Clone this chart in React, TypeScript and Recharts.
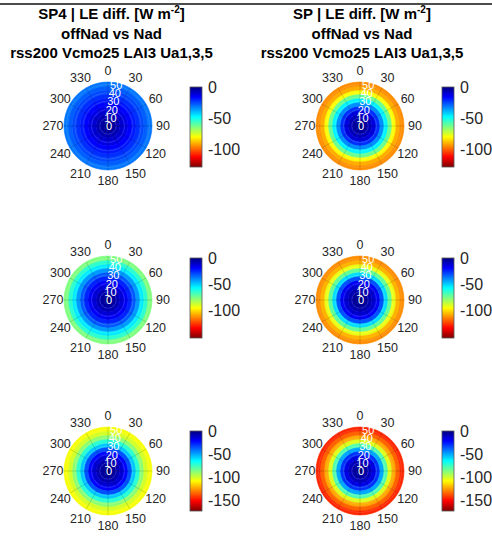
import { RadialBarChart, RadialBar, RadarChart, Radar, PolarGrid, PolarAngleAxis, PolarRadiusAxis, Cell } from 'recharts';

const W = 492;
const H = 537;
const FONT = '"Liberation Sans", Arial, sans-serif';

// zenith bins (deg) of the polar heatmaps, centre to edge
const ZENITH_BINS = ['0-5', '5-10', '10-15', '15-20', '20-25', '25-30', '30-35', '35-40', '40-45', '45-50', '50-55'];
const AZIMUTH_TICKS = [0, 30, 60, 90, 120, 150, 180, 210, 240, 270, 300, 330];
const RADIUS_TICKS = [0, 10, 20, 30, 40, 50];
const RADIUS_MAX = 53;

// LE difference per zenith ring [W m-2]
const SP4_ROW1 = [-3, -5, -7, -10, -13, -16, -19, -22, -25, -28, -31];
const SP_ROW1 = [-3, -5, -8, -12, -22, -34, -47, -62, -80, -91, -95];
const SP4_ROW2 = [-4, -6, -9, -13, -18, -24, -32, -42, -54, -64, -76];
const SP_ROW2 = [-3, -5, -8, -12, -18, -31, -52, -72, -92, -106, -112];
const SP4_ROW3 = [-4, -6, -9, -14, -22, -35, -55, -72, -88, -100, -106];
const SP_ROW3 = [-4, -7, -11, -17, -30, -50, -78, -102, -122, -134, -144];

// colour limits and colorbar ticks per row
const CLIM_MIN = [-129, -152, -172];
const CBAR_TICKS_ROW12 = [0, -50, -100];
const CBAR_TICKS_ROW3 = [0, -50, -100, -150];

const jet = (t: number) => {
  const c = (x: number) => Math.round(255 * Math.max(0, Math.min(1, x)));
  return `rgb(${c(1.5 - Math.abs(4 * t - 3))},${c(1.5 - Math.abs(4 * t - 2))},${c(1.5 - Math.abs(4 * t - 1))})`;
};

const PANELS = [
  { values: SP4_ROW1, cx: 108, cy: 126, row: 0, col: 0 },
  { values: SP_ROW1, cx: 360, cy: 126, row: 0, col: 1 },
  { values: SP4_ROW2, cx: 108, cy: 300, row: 1, col: 0 },
  { values: SP_ROW2, cx: 360, cy: 300, row: 1, col: 1 },
  { values: SP4_ROW3, cx: 108, cy: 471, row: 2, col: 0 },
  { values: SP_ROW3, cx: 360, cy: 471, row: 2, col: 1 },
];

const CBAR_X = [190, 442];
const CBAR_TOP = [87, 258, 431];
const CBAR_H = 80;
const CBAR_W = 12;

const angleTick = (props: any) => (
  <text x={props.x} y={props.y} textAnchor="middle" dominantBaseline="central" fill="#262626" fontSize={12.5} fontFamily={FONT}>
    {props.payload.value}
  </text>
);

const radiusTick = (props: any) => (
  <text x={props.x + 1} y={props.y} textAnchor="middle" dominantBaseline="central" fill="#fff" fontSize={11} fontFamily={FONT}>
    {props.payload.value}
  </text>
);

const PolarHeatmap = ({ values, cx, cy, row }: { values: number[]; cx: number; cy: number; row: number }) => {
  const data = ZENITH_BINS.map((bin, i) => ({ bin, full: 360, le: values[i] }));
  const axisData = AZIMUTH_TICKS.map(az => ({ az, rmax: RADIUS_MAX }));
  return (
    <>
      <div style={{ position: 'absolute', left: 0, top: 0 }}>
        <RadialBarChart
          width={W}
          height={H}
          data={data}
          cx={cx}
          cy={cy}
          innerRadius={0}
          outerRadius={44}
          startAngle={90}
          endAngle={-270}
          barCategoryGap={0}
          barGap={0}
        >
          <PolarAngleAxis type="number" domain={[0, 360]} tick={false} axisLine={false} />
          <PolarRadiusAxis type="category" dataKey="bin" tick={false} axisLine={false} />
          <RadialBar dataKey="full" isAnimationActive={false}>
            {data.map(d => {
              const color = jet(d.le / CLIM_MIN[row]);
              return <Cell key={d.bin} fill={color} stroke={color} strokeWidth={0.6} />;
            })}
          </RadialBar>
        </RadialBarChart>
      </div>
      <div style={{ position: 'absolute', left: 0, top: 0 }}>
        <RadarChart width={W} height={H} data={axisData} cx={cx} cy={cy} innerRadius={0} outerRadius={44} startAngle={90} endAngle={-270}>
          <PolarGrid gridType="circle" radialLines={false} stroke="#fff" strokeOpacity={0.13} />
          <PolarGrid gridType="circle" polarRadius={[0.01]} stroke="#000" strokeOpacity={0.15} />
          <PolarAngleAxis dataKey="az" tick={angleTick} tickLine={false} axisLine={false} tickSize={11} />
          <PolarRadiusAxis type="number" domain={[0, RADIUS_MAX]} ticks={RADIUS_TICKS} angle={80} axisLine={false} tickLine={false} tick={radiusTick} />
          <Radar dataKey="rmax" stroke="none" fill="none" dot={false} isAnimationActive={false} />
        </RadarChart>
      </div>
    </>
  );
};

const GRAD_STOPS = Array.from({ length: 17 }, (_, i) => i / 16);

const Titles = ({ x, name }: { x: number; name: string }) => (
  <g fontFamily={FONT} fontWeight="bold" fontSize={15} fill="#000" textAnchor="middle">
    <text x={x} y={18.5}>
      {name} | LE diff. [W m
      <tspan fontSize={10} dy={-6}>
        -2
      </tspan>
      <tspan dy={6}>]</tspan>
    </text>
    <text x={x} y={38.5}>
      offNad vs Nad
    </text>
    <text x={x} y={58}>
      rss200 Vcmo25 LAI3 Ua1,3,5
    </text>
  </g>
);

const Colorbar = ({ x, top, min, ticks }: { x: number; top: number; min: number; ticks: number[] }) => (
  <g>
    <rect x={x} y={top} width={CBAR_W} height={CBAR_H} fill="url(#jetGrad)" stroke="#555" strokeWidth={0.8} />
    {ticks.map(v => (
      <text
        key={v}
        x={x + CBAR_W + 6}
        y={top + (v / min) * CBAR_H}
        dominantBaseline="central"
        fill="#262626"
        fontSize={16}
        fontFamily={FONT}
      >
        {v}
      </text>
    ))}
  </g>
);

export default function App() {
  return (
    <div style={{ position: 'absolute', left: 0, top: 0, width: W, height: H, background: '#fff', overflow: 'hidden' }}>
      {PANELS.map(p => (
        <PolarHeatmap key={`${p.row}-${p.col}`} values={p.values} cx={p.cx} cy={p.cy} row={p.row} />
      ))}
      <svg width={W} height={H} style={{ position: 'absolute', left: 0, top: 0 }}>
        <defs>
          <linearGradient id="jetGrad" x1="0" y1="0" x2="0" y2="1">
            {GRAD_STOPS.map(t => (
              <stop key={t} offset={t} stopColor={jet(t)} />
            ))}
          </linearGradient>
        </defs>
        <line x1={0} y1={4} x2={W} y2={4} stroke="#111" strokeWidth={1.5} />
        <Titles x={111.5} name="SP4" />
        <Titles x={362} name="SP" />
        {PANELS.map(p => (
          <Colorbar
            key={`cb-${p.row}-${p.col}`}
            x={CBAR_X[p.col]}
            top={CBAR_TOP[p.row]}
            min={CLIM_MIN[p.row]}
            ticks={p.row === 2 ? CBAR_TICKS_ROW3 : CBAR_TICKS_ROW12}
          />
        ))}
      </svg>
    </div>
  );
}
